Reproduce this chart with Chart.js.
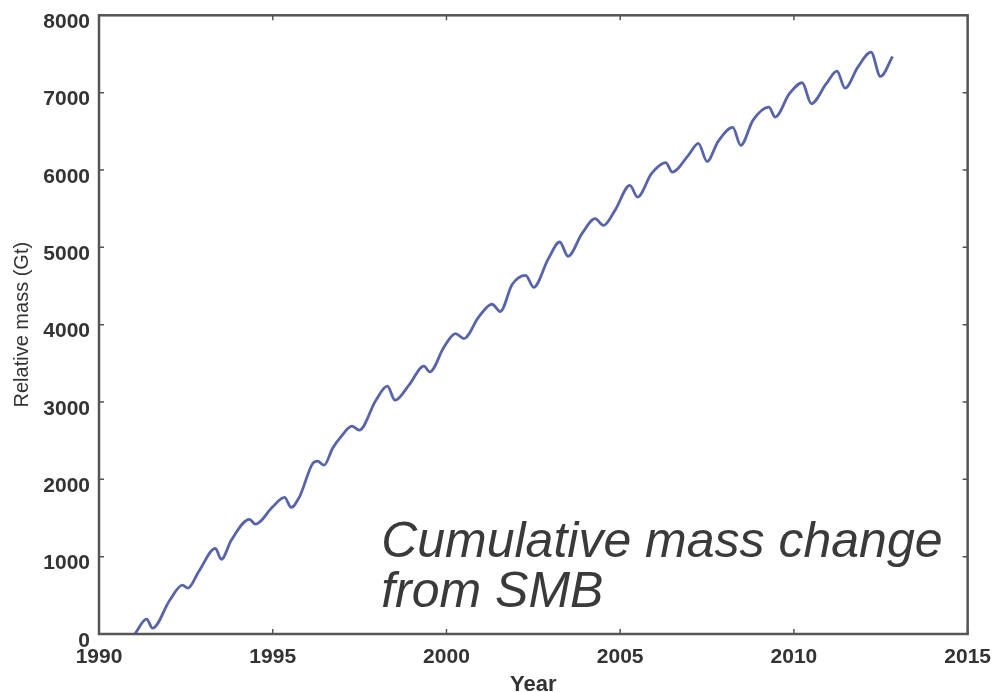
<!DOCTYPE html>
<html>
<head>
<meta charset="utf-8">
<script src="https://cdn.jsdelivr.net/npm/chart.js@4/dist/chart.umd.min.js"></script>
<style>
  html, body { margin: 0; padding: 0; background: #ffffff; }
  #wrap { width: 996px; height: 692px; position: relative; }
</style>
</head>
<body>
<div id="wrap"><canvas id="chart"></canvas></div>
<script>
// Cumulative surface mass balance, decimal year vs. relative mass (Gt)
const years = [
  1991.03, 1991.37, 1991.54, 1992.04, 1992.40, 1992.56, 1992.88, 1993.35, 1993.52, 1993.81,
  1994.33, 1994.50, 1995.00, 1995.34, 1995.53, 1995.77, 1996.15, 1996.29, 1996.48, 1996.72,
  1996.96, 1997.28, 1997.49, 1997.97, 1998.30, 1998.52, 1998.92, 1999.35, 1999.52, 1999.93,
  2000.26, 2000.50, 2000.93, 2001.31, 2001.55, 2001.89, 2002.28, 2002.51, 2002.93, 2003.26,
  2003.50, 2003.90, 2004.28, 2004.52, 2004.85, 2005.28, 2005.50, 2005.90, 2006.31, 2006.50,
  2006.96, 2007.25, 2007.50, 2007.82, 2008.24, 2008.47, 2008.82, 2009.28, 2009.46, 2009.87,
  2010.24, 2010.50, 2010.93, 2011.24, 2011.47, 2011.84, 2012.22, 2012.49, 2012.84
];
const massGt = [
  0, 192, 76, 440, 633, 594, 815, 1107, 965, 1215,
  1482, 1421, 1645, 1766, 1637, 1774, 2205, 2235, 2183, 2399,
  2549, 2687, 2636, 3023, 3204, 3023, 3217, 3463, 3389, 3712,
  3885, 3820, 4100, 4264, 4170, 4520, 4638, 4483, 4850, 5069,
  4884, 5177, 5370, 5284, 5478, 5801, 5650, 5952, 6095, 5973,
  6189, 6345, 6110, 6370, 6550, 6318, 6641, 6813, 6684, 6986,
  7128, 6857, 7115, 7278, 7058, 7330, 7523, 7209, 7468
];
const xTicks = [1990, 1995, 2000, 2005, 2010, 2015];
const yTicks = [0, 1000, 2000, 3000, 4000, 5000, 6000, 7000, 8000];
const noteLines = ['Cumulative mass change', 'from SMB'];

const FONT = '"Liberation Sans", Arial, Helvetica, sans-serif';

// Box around the plot with short inward tick marks on all four sides
const frameTicks = {
  id: 'frameTicks',
  afterDatasetsDraw(chart) {
    const { ctx, chartArea: a, scales: { x, y } } = chart;
    ctx.save();
    ctx.strokeStyle = '#555555';
    ctx.lineWidth = 1.5;
    const len = 5;
    ctx.beginPath();
    xTicks.forEach(v => {
      const px = x.getPixelForValue(v);
      ctx.moveTo(px, a.bottom); ctx.lineTo(px, a.bottom - len);
      ctx.moveTo(px, a.top); ctx.lineTo(px, a.top + len);
    });
    yTicks.forEach(v => {
      const py = y.getPixelForValue(v);
      ctx.moveTo(a.left, py); ctx.lineTo(a.left + len, py);
      ctx.moveTo(a.right, py); ctx.lineTo(a.right - len, py);
    });
    ctx.stroke();
    ctx.lineWidth = 2.5;
    ctx.strokeRect(a.left, a.top, a.right - a.left, a.bottom - a.top);
    ctx.restore();
  }
};

// Italic caption placed in data coordinates
const caption = {
  id: 'caption',
  afterDraw(chart) {
    const { ctx, scales: { x, y } } = chart;
    ctx.save();
    ctx.fillStyle = '#3a3a3a';
    ctx.font = 'italic 50px ' + FONT;
    ctx.textAlign = 'left';
    ctx.textBaseline = 'alphabetic';
    const left = x.getPixelForValue(1998.12);
    ctx.fillText(noteLines[0], left, y.getPixelForValue(995));
    ctx.fillText(noteLines[1], left, y.getPixelForValue(350));
    ctx.restore();
  }
};

new Chart(document.getElementById('chart'), {
  type: 'line',
  data: {
    datasets: [{
      data: years.map((yr, i) => ({ x: yr, y: massGt[i] })),
      borderColor: 'rgb(88, 100, 170)',
      borderWidth: 2.8,
      pointRadius: 0,
      fill: false,
      cubicInterpolationMode: 'monotone'
    }]
  },
  options: {
    responsive: true,
    maintainAspectRatio: false,
    animation: false,
    layout: { padding: { top: 0, right: 0, left: 0, bottom: 0 } },
    plugins: { legend: { display: false }, tooltip: { enabled: false } },
    scales: {
      x: {
        type: 'linear',
        min: 1990, max: 2015,
        grid: { display: false, drawTicks: false },
        border: { display: false },
        afterBuildTicks: s => { s.ticks = xTicks.map(v => ({ value: v })); },
        afterFit: s => { s.height = 58; },
        ticks: {
          padding: 5,
          color: '#333333',
          font: { family: FONT, size: 21, weight: 'bold', lineHeight: 1.77 },
          callback: v => String(v)
        },
        title: {
          display: true,
          text: 'Year',
          color: '#333333',
          padding: 0,
          font: { family: FONT, size: 22, weight: 'bold', lineHeight: 0.6 }
        }
      },
      y: {
        type: 'linear',
        min: 0, max: 8000,
        grid: { display: false, drawTicks: false },
        border: { display: false },
        afterBuildTicks: s => { s.ticks = yTicks.map(v => ({ value: v })); },
        afterFit: s => { s.width = 99; },
        ticks: {
          padding: 9,
          labelOffset: 7,
          color: '#333333',
          font: { family: FONT, size: 21, weight: 'bold', lineHeight: 0.6 },
          callback: v => String(v)
        },
        title: {
          display: true,
          text: 'Relative mass (Gt)',
          color: '#333333',
          padding: { top: 10, bottom: 0 },
          font: { family: FONT, size: 20, lineHeight: 1.2 }
        }
      }
    }
  },
  plugins: [frameTicks, caption]
});
</script>
</body>
</html>
